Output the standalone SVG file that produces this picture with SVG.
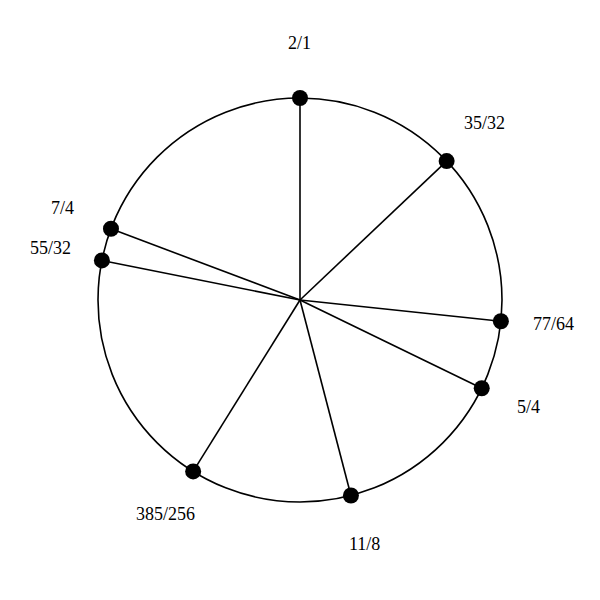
<svg xmlns="http://www.w3.org/2000/svg" width="600" height="600" viewBox="0 0 600 600">
<style>
.ring{fill:none;stroke:#000;stroke-width:1.6}
.spoke{stroke:#000;stroke-width:1.6}
.dot{fill:#000}
.lbl{font-family:"Liberation Serif","Times New Roman",serif;font-size:18px;fill:#000}
</style>
<rect width="600" height="600" fill="#fff"/>
<circle class="ring" cx="300" cy="300" r="202"/>
<g id="connectors">
<line class="spoke" x1="300" y1="300" x2="300" y2="98"/>
<line class="spoke" x1="300" y1="300" x2="446.64" y2="161.07"/>
<line class="spoke" x1="300" y1="300" x2="500.88" y2="321.26"/>
<line class="spoke" x1="300" y1="300" x2="481.73" y2="388.22"/>
<line class="spoke" x1="300" y1="300" x2="350.93" y2="495.47"/>
<line class="spoke" x1="300" y1="300" x2="193.16" y2="471.43"/>
<line class="spoke" x1="300" y1="300" x2="101.91" y2="260.45"/>
<line class="spoke" x1="300" y1="300" x2="110.98" y2="228.77"/>
</g>
<g id="n-2-1"><circle class="dot" cx="300" cy="98" r="8"/><text class="lbl" x="288" y="49">2/1</text></g>
<g id="n-35-32"><circle class="dot" cx="446.64" cy="161.07" r="8"/><text class="lbl" x="464" y="129">35/32</text></g>
<g id="n-77-64"><circle class="dot" cx="500.88" cy="321.26" r="8"/><text class="lbl" x="533" y="330">77/64</text></g>
<g id="n-5-4"><circle class="dot" cx="481.73" cy="388.22" r="8"/><text class="lbl" x="517" y="413">5/4</text></g>
<g id="n-11-8"><circle class="dot" cx="350.93" cy="495.47" r="8"/><text class="lbl" x="349" y="550">11/8</text></g>
<g id="n-385-256"><circle class="dot" cx="193.16" cy="471.43" r="8"/><text class="lbl" x="136" y="520">385/256</text></g>
<g id="n-55-32"><circle class="dot" cx="101.91" cy="260.45" r="8"/><text class="lbl" x="30" y="254">55/32</text></g>
<g id="n-7-4"><circle class="dot" cx="110.98" cy="228.77" r="8"/><text class="lbl" x="51" y="214">7/4</text></g>
</svg>
